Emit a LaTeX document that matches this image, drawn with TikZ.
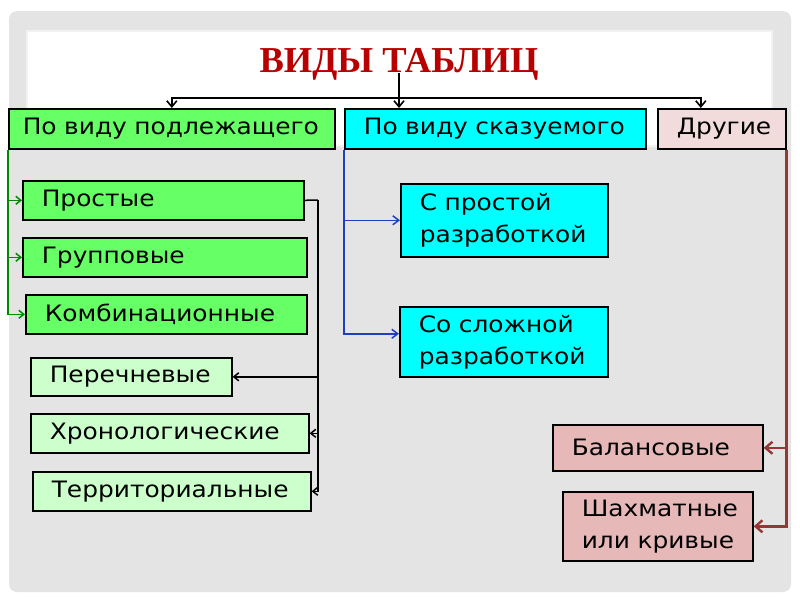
\documentclass[tikz,border=0pt]{standalone}
\usepackage{fontspec}
\setmainfont{DejaVu Sans}
\newfontfamily\boxfont[FakeStretch=1.1]{DejaVu Sans}
\newfontfamily\titlefont{Liberation Serif}
\usetikzlibrary{arrows.meta}

\definecolor{slidegray}{HTML}{E4E4E4}
\definecolor{titlered}{HTML}{B80000}
\definecolor{subjgreen}{HTML}{66FF66}
\definecolor{palegreen}{HTML}{CCFFCC}
\definecolor{predcyan}{HTML}{00FFFF}
\definecolor{otherpink}{HTML}{F2DCDB}
\definecolor{rosepink}{HTML}{E6B9B8}
\definecolor{linkgreen}{HTML}{008A00}
\definecolor{linkblue}{HTML}{1F3FBF}
\definecolor{linkred}{HTML}{953735}

\tikzset{
  tbox/.style={draw=black, line width=1.6pt, anchor=north west,
    inner xsep=19pt, inner ysep=0pt, align=left,
    font=\boxfont\fontsize{22.6}{32}\selectfont},
  toplink/.style={line width=1.6pt, -{Straight Barb[length=6pt,width=10pt]}},
  subjlink/.style={linkgreen, line width=1.5pt, -{Straight Barb[length=5pt,width=8pt]}},
  listlink/.style={black, line width=1.5pt, -{Straight Barb[length=5pt,width=8pt]}},
  predlink/.style={linkblue, line width=1.5pt, -{Straight Barb[length=6pt,width=9pt]}},
  otherlink/.style={linkred, line width=2.4pt, -{Straight Barb[length=7pt,width=12pt]}},
}

\begin{document}
\begin{tikzpicture}[x=1pt,y=-1pt]
  \useasboundingbox (0,0) rectangle (800,600);
  % slide background
  \fill[white] (0,0) rectangle (800,600);
  \fill[slidegray, rounded corners=8pt] (9,11) rectangle (791,592);
  \filldraw[fill=white, draw=gray!10, line width=2pt] (27,31) rectangle (772,146);

  \node[titlered, anchor=base, font=\titlefont\bfseries\fontsize{36.5}{40}\selectfont]
    (title) at (399,72) {ВИДЫ ТАБЛИЦ};

  % top row
  \node[tbox, fill=subjgreen, inner xsep=14pt, text width=298pt, minimum height=40pt] (subj) at (8,108) {По виду подлежащего};
  \node[tbox, fill=predcyan,  text width=263pt, minimum height=40pt] (pred)  at (344,108) {По виду сказуемого};
  \node[tbox, fill=otherpink, text width=90pt,  minimum height=40pt] (other) at (657,108) {Другие};

  % by subject
  \node[tbox, fill=subjgreen, text width=243pt, minimum height=39pt] (simple) at (22,180) {Простые};
  \node[tbox, fill=subjgreen, text width=246pt, minimum height=39pt] (group)  at (22,237) {Групповые};
  \node[tbox, fill=subjgreen, text width=243pt, minimum height=39pt] (comb)   at (25,294) {Комбинационные};
  \node[tbox, fill=palegreen, text width=163pt, minimum height=38pt] (list)   at (30,357) {Перечневые};
  \node[tbox, fill=palegreen, text width=240pt, minimum height=39pt] (chron)  at (30,413) {Хронологические};
  \node[tbox, fill=palegreen, text width=240pt, minimum height=39pt] (terr)   at (32,471) {Территориальные};

  % by predicate
  \node[tbox, fill=predcyan, text width=169pt, minimum height=73pt] (sprost) at (400,183) {С простой\\разработкой};
  \node[tbox, fill=predcyan, text width=170pt, minimum height=70pt] (scomp)  at (399,306) {Со сложной\\разработкой};

  % other
  \node[tbox, fill=rosepink, text width=172pt, minimum height=46pt] (bal)   at (552,424) {Балансовые};
  \node[tbox, fill=rosepink, text width=152pt, minimum height=69pt] (chess) at (562,491) {Шахматные\\\mbox{или кривые}};

  \coordinate (bus)   at (399,98);
  \coordinate (spine) at (318,200);

  \draw[toplink] ([yshift=-1pt]title.base) -- (title.base |- pred.north);
  \draw[toplink] (bus) -| (subj.north);
  \draw[toplink] (bus) -| ([xshift=-21pt]other.north);

  \draw[subjlink] (subj.south west) |- (simple.west);
  \draw[subjlink] (subj.south west) |- (group.west);
  \draw[subjlink] (subj.south west) |- (comb.west);

  \draw[line width=1.5pt] (simple.east) -- (spine);
  \draw[listlink] (spine) |- (list.east);
  \draw[listlink] (spine) |- (chron.east);
  \draw[listlink] (spine) |- (terr.east);

  \draw[predlink] (pred.south west) |- (sprost.west);
  \draw[predlink] (pred.south west) |- ([yshift=8pt]scomp.west);

  \draw[otherlink] (other.south east) |- (bal.east);
  \draw[otherlink] (other.south east) |- (chess.east);
\end{tikzpicture}
\end{document}
